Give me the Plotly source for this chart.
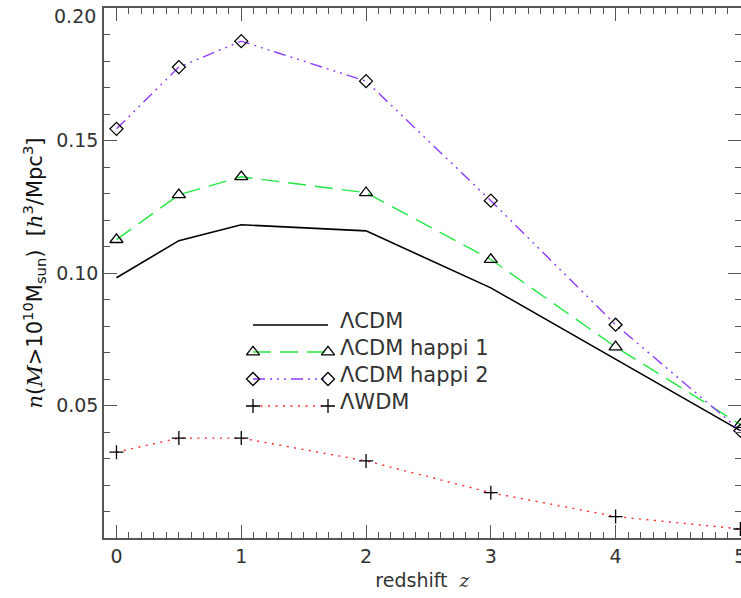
import plotly.graph_objects as go

# Halo number density above 1e10 Msun versus redshift
redshift = [0, 0.5, 1, 2, 3, 4, 5]
lcdm = [0.0982, 0.1122, 0.1182, 0.1159, 0.0944, 0.0673, 0.0405]
lcdm_happi1 = [0.1126, 0.1295, 0.1363, 0.1303, 0.1051, 0.0721, 0.0428]
lcdm_happi2 = [0.1544, 0.1777, 0.1875, 0.1724, 0.1273, 0.0805, 0.0405]
lwdm = [0.0324, 0.0377, 0.0377, 0.0291, 0.0171, 0.0081, 0.0034]

series_names = ["ΛCDM", "ΛCDM happi 1", "ΛCDM happi 2", "ΛWDM"]
x_ticks = [0, 1, 2, 3, 4, 5]
y_ticks = [0.05, 0.10, 0.15, 0.20]
y_tick_text = ["0.05", "0.10", "0.15", "0.20"]

W, H = 741, 598
L, R, T, B = 104, 0, 8, 60

FONT = "DejaVu Sans"
TXT = "#333333"
AX = "#555555"

styles = [
    dict(color="black", dash="solid", symbol=None, msize=0),
    dict(color="#22e844", dash="18px,9px", symbol="triangle-up-open", msize=11.5),
    dict(color="#8f3cff", dash="12px,5px,2px,5px,2px,5px,2px,5px",
         symbol="diamond-open", msize=10),
    dict(color="#ff2a2a", dash="2px,5.5px", symbol="cross-thin", msize=10),
]
data = [lcdm, lcdm_happi1, lcdm_happi2, lwdm]

fig = go.Figure()

for name, ys, st in zip(series_names, data, styles):
    mode = "lines+markers" if st["symbol"] else "lines"
    kw = {}
    if st["symbol"]:
        kw["marker"] = dict(symbol=st["symbol"], size=st["msize"], color="black",
                            line=dict(color="black", width=1.3))
    fig.add_trace(go.Scatter(
        x=redshift, y=ys, name=name, mode=mode,
        line=dict(color=st["color"], width=1.4 if st["symbol"] else 1.6,
                  dash=st["dash"]),
        showlegend=False, **kw))

# Legend keys, drawn on a hidden pixel-scaled overlay axis
key_x0, key_x1, text_x = 253, 328, 338
row_y = [325, 352, 379, 406]
for name, st, ry in zip(series_names, styles, row_y):
    mode = "lines+markers" if st["symbol"] else "lines"
    kw = {}
    if st["symbol"]:
        kw["marker"] = dict(symbol=st["symbol"], size=st["msize"], color="black",
                            line=dict(color="black", width=1.3))
    fig.add_trace(go.Scatter(
        x=[key_x0, key_x1], y=[ry, ry], mode=mode, xaxis="x2", yaxis="y2",
        line=dict(color=st["color"], width=1.4 if st["symbol"] else 1.6,
                  dash=st["dash"]),
        showlegend=False, hoverinfo="skip", cliponaxis=False, **kw))
    fig.add_annotation(
        x=text_x, y=ry - 4, xref="x2", yref="y2", text=name, showarrow=False,
        xanchor="left", yanchor="middle",
        font=dict(family=FONT, size=21, color=TXT))

# The topmost y label sits just below its tick so it stays inside the page
tick_text = list(y_tick_text)
top_label = tick_text[-1]
tick_text[-1] = ""
fig.add_annotation(
    x=0, y=y_ticks[-1], xref="paper", yref="y", text=top_label, showarrow=False,
    xanchor="right", yanchor="middle", xshift=-6, yshift=-8,
    font=dict(family=FONT, size=19, color=TXT))

serif_i = "<span style='font-family:\"DejaVu Serif\";font-style:italic'>{}</span>"
y_title = (serif_i.format("n") + "(" + serif_i.format("M") + "&gt;10<sup>10</sup>M<sub>sun</sub>)"
           + "  [" + serif_i.format("h") + "<sup>3</sup>/Mpc<sup>3</sup>]")
x_title = "redshift  " + serif_i.format("z")

axis_common = dict(
    showline=True, linecolor=AX, linewidth=1.5, mirror="ticks",
    ticks="inside", tickcolor=AX, tickwidth=1.3, ticklen=13,
    showgrid=False, zeroline=False, automargin=False,
    ticklabeloverflow="allow",
    tickfont=dict(family=FONT, size=19, color=TXT),
)

fig.update_layout(
    width=W, height=H,
    margin=dict(l=L, r=R, t=T, b=B),
    paper_bgcolor="white", plot_bgcolor="white",
    xaxis=dict(
        range=[-0.1, 5.005], tickvals=x_ticks, ticktext=[str(v) for v in x_ticks],
        minor=dict(dtick=0.1, ticks="inside", ticklen=6, tickcolor=AX, tickwidth=1.2),
        title=dict(text=x_title, font=dict(family=FONT, size=19, color=TXT), standoff=8),
        **axis_common),
    yaxis=dict(
        range=[0, 0.2], tickvals=y_ticks, ticktext=tick_text,
        minor=dict(dtick=0.01, ticks="inside", ticklen=6, tickcolor=AX, tickwidth=1.2),
        title=dict(text=y_title, font=dict(family=FONT, size=21, color="#111111"), standoff=8),
        **axis_common),
    xaxis2=dict(overlaying="x", range=[L, W - R], visible=False, fixedrange=True),
    yaxis2=dict(overlaying="y", range=[H - B, T], visible=False, fixedrange=True),
)

fig.write_html("out.html")
